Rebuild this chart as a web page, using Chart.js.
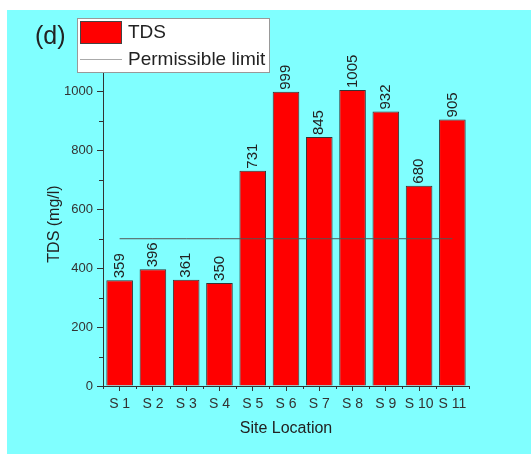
<!DOCTYPE html>
<html>
<head>
<meta charset="utf-8">
<script src="https://cdn.jsdelivr.net/npm/chart.js@4/dist/chart.umd.min.js"></script>
<style>
  html, body { margin: 0; padding: 0; background: #fff; }
  #wrap { position: relative; width: 531px; height: 454px; }
</style>
</head>
<body>
<div id="wrap"><canvas id="tdsChart" width="531" height="454"></canvas></div>
<script>
const sites = ["S 1", "S 2", "S 3", "S 4", "S 5", "S 6", "S 7", "S 8", "S 9", "S 10", "S 11"];
const tdsValues = [359, 396, 361, 350, 731, 999, 845, 1005, 932, 680, 905];
const limitValues = [500, 500, 500, 500, 500, 500, 500, 500, 500, 500, 500];
const yTicks = [0, 200, 400, 600, 800, 1000];
const yMinorTicks = [100, 300, 500, 700, 900];

const FONT = "Arial, 'Liberation Sans', sans-serif";
const INK = "#222";

// cyan panel behind everything
const panelBg = {
  id: "panelBg",
  beforeDraw(chart) {
    const ctx = chart.ctx;
    ctx.save();
    ctx.fillStyle = "#fff";
    ctx.fillRect(0, 0, chart.width, chart.height);
    ctx.fillStyle = "#80ffff";
    ctx.fillRect(7, 10, chart.width - 7, chart.height - 10);
    ctx.restore();
  }
};

// minor ticks on both axes
const minorTicks = {
  id: "minorTicks",
  afterDraw(chart) {
    const ctx = chart.ctx;
    const x = chart.scales.x, y = chart.scales.y;
    ctx.save();
    ctx.strokeStyle = "#333";
    ctx.lineWidth = 1;
    ctx.beginPath();
    yMinorTicks.forEach(v => {
      const py = Math.round(y.getPixelForValue(v)) + 0.5;
      ctx.moveTo(y.right - 4, py);
      ctx.lineTo(y.right, py);
    });
    const half = (x.getPixelForValue(1) - x.getPixelForValue(0)) / 2;
    for (let i = 0; i <= sites.length; i++) {
      const px = Math.round(x.getPixelForValue(i) - half) + 0.5;
      ctx.moveTo(px, x.top);
      ctx.lineTo(px, x.top + 3);
    }
    ctx.stroke();
    ctx.restore();
  }
};

// rotated value labels above bars
const barLabels = {
  id: "barLabels",
  afterDatasetsDraw(chart) {
    const ctx = chart.ctx;
    const meta = chart.getDatasetMeta(0);
    ctx.save();
    ctx.fillStyle = INK;
    ctx.font = "15px " + FONT;
    ctx.textAlign = "left";
    ctx.textBaseline = "middle";
    meta.data.forEach((bar, i) => {
      ctx.save();
      ctx.translate(bar.x, bar.y - 2);
      ctx.rotate(-Math.PI / 2);
      ctx.fillText(String(tdsValues[i]), 0, 0);
      ctx.restore();
    });
    ctx.restore();
  }
};

// boxed legend and panel letter
const boxLegend = {
  id: "boxLegend",
  afterDraw(chart) {
    const ctx = chart.ctx;
    const ds = chart.data.datasets;
    ctx.save();
    ctx.fillStyle = "#fff";
    ctx.fillRect(77, 18, 193, 55);
    ctx.strokeStyle = "#999";
    ctx.lineWidth = 1;
    ctx.strokeRect(77.5, 18.5, 192, 54);

    ctx.fillStyle = ds[0].backgroundColor;
    ctx.fillRect(80, 21, 42, 23);
    ctx.strokeStyle = "#444";
    ctx.strokeRect(80.5, 21.5, 41, 22);

    ctx.strokeStyle = "#aaa";
    ctx.beginPath();
    ctx.moveTo(80, 59.5);
    ctx.lineTo(122, 59.5);
    ctx.stroke();

    ctx.fillStyle = INK;
    ctx.font = "19px " + FONT;
    ctx.textBaseline = "middle";
    ctx.fillText(ds[0].label, 128, 33);
    ctx.fillText(ds[1].label, 128, 60);

    ctx.font = "25px " + FONT;
    ctx.fillText("(d)", 35, 37);
    ctx.restore();
  }
};

new Chart(document.getElementById("tdsChart"), {
  data: {
    labels: sites,
    datasets: [
      {
        type: "bar",
        label: "TDS",
        data: tdsValues,
        backgroundColor: "#ff0000",
        borderColor: "#333",
        borderWidth: 1,
        barPercentage: 0.8,
        categoryPercentage: 1,
        order: 2
      },
      {
        type: "line",
        label: "Permissible limit",
        data: limitValues,
        borderColor: "#555",
        borderWidth: 1,
        pointRadius: 0,
        fill: false,
        order: 1
      }
    ]
  },
  options: {
    responsive: false,
    animation: false,
    layout: { padding: { left: 0, right: 62, top: 62, bottom: 0 } },
    plugins: {
      legend: { display: false },
      tooltip: { enabled: false }
    },
    scales: {
      x: {
        offset: true,
        grid: { display: true, drawOnChartArea: false, offset: false, tickLength: 5, color: "#333" },
        border: { color: "#333", width: 1 },
        ticks: { color: "#333", font: { size: 14, family: FONT }, padding: 5, maxRotation: 0 },
        title: { display: true, text: "Site Location", color: INK, font: { size: 16, family: FONT }, padding: { top: 0, bottom: 16 } },
        afterFit(scale) { scale.height = 68; }
      },
      y: {
        min: 0,
        max: 1100,
        afterBuildTicks(scale) { scale.ticks = yTicks.map(v => ({ value: v })); },
        grid: { display: true, drawOnChartArea: false, tickLength: 6, color: "#333" },
        border: { color: "#333", width: 1 },
        ticks: { color: "#333", font: { size: 13, family: FONT }, padding: 4, callback: v => String(v) },
        title: { display: true, text: "TDS (mg/l)", color: INK, font: { size: 16, family: FONT }, padding: { top: 45, bottom: 0 } },
        afterFit(scale) { scale.width = 103; }
      }
    }
  },
  plugins: [panelBg, barLabels, minorTicks, boxLegend]
});
</script>
</body>
</html>
